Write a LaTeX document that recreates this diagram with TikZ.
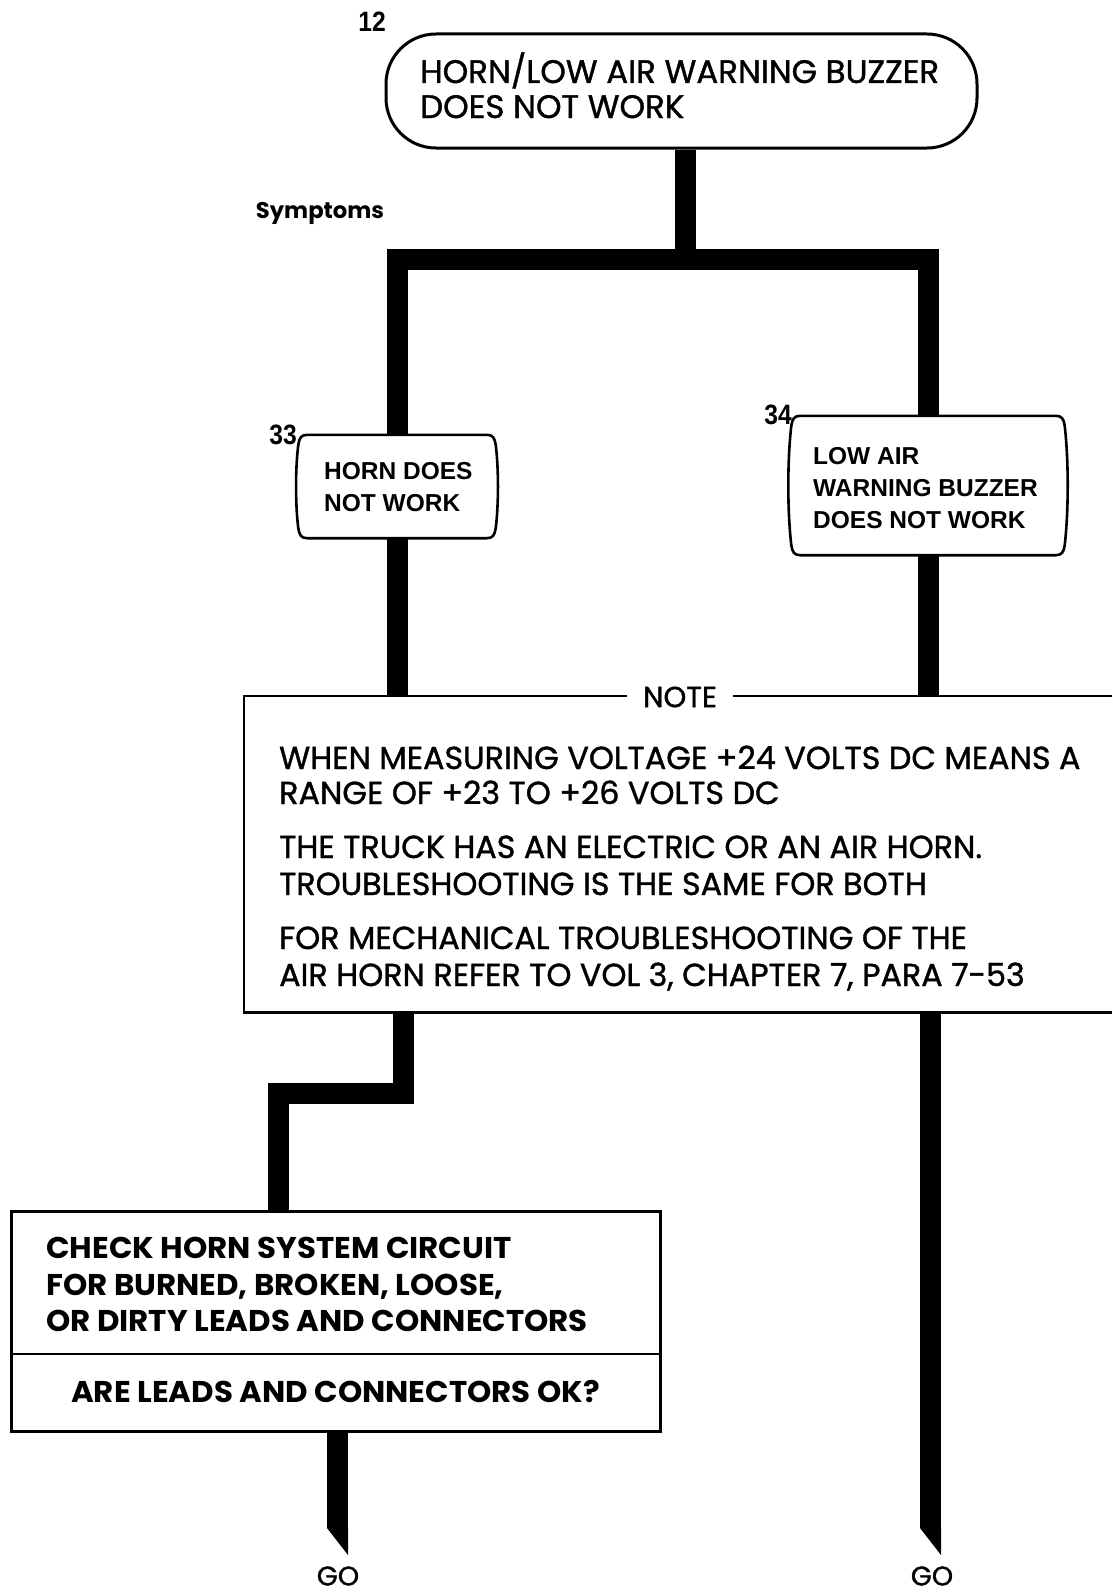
\documentclass[tikz,border=0pt]{standalone}
\usepackage{fontspec}
\setmainfont{Poppins}
\newfontfamily\fut{Poppins}
\newfontfamily\futm[FakeBold=1.2]{Poppins}
\newfontfamily\futw[FakeStretch=1.03]{Poppins}
\newfontfamily\helv{Liberation Sans}
\newfontfamily\helvc[FakeStretch=0.88]{Liberation Sans}
\usetikzlibrary{calc}
\newcommand\barrelbox[2]{%
 \draw[bord] let \p1=(#1.north west), \p2=(#1.south east), \n1={0.32*(\y1-\y2)} in
  (\x1+8pt,\y1) -- (\x2-8pt,\y1)
  .. controls (\x2-2pt,\y1) and (\x2,\y1-3pt) .. (\x2+1pt,\y1-10pt)
  .. controls (\x2+#2,\y1-\n1) and (\x2+#2,\y2+\n1) .. (\x2+1pt,\y2+10pt)
  .. controls (\x2,\y2+3pt) and (\x2-2pt,\y2) .. (\x2-8pt,\y2)
  -- (\x1+8pt,\y2)
  .. controls (\x1+2pt,\y2) and (\x1,\y2+3pt) .. (\x1-1pt,\y2+10pt)
  .. controls (\x1-#2,\y2+\n1) and (\x1-#2,\y1-\n1) .. (\x1-1pt,\y1-10pt)
  .. controls (\x1,\y1-3pt) and (\x1+2pt,\y1) .. (\x1+8pt,\y1) -- cycle;}
\begin{document}
\begin{tikzpicture}[x=1pt,y=-1pt,
  flow/.style={line width=21pt, black},
  bord/.style={line width=2.6pt, black},
  ttl/.style={anchor=base west, inner sep=0pt, font=\futm\fontsize{32.5}{32.5}\selectfont},
  ntxt/.style={anchor=base west, inner sep=0pt, font=\futm\fontsize{31.8}{31.8}\selectfont},
  ctxt/.style={anchor=base west, inner sep=0pt, font=\futw\bfseries\fontsize{30}{30}\selectfont},
  stxt/.style={anchor=base west, inner sep=0pt, font=\helv\bfseries\fontsize{24.5}{24.5}\selectfont},
  num/.style={inner sep=0pt, font=\helvc\bfseries\fontsize{28}{28}\selectfont}]
\useasboundingbox (0,0) rectangle (1112,1592);

% top terminal
\node[draw, line width=3pt, rounded corners=50pt, minimum width=591pt, minimum height=114pt, inner sep=0pt] (term) at (681.5,91) {};
\node[ttl] (t1) at (420,83) {HORN/LOW AIR WARNING BUZZER};
\node[ttl] (t2) at (420,118) {DOES NOT WORK};
\node[num] (n12) at (372,22) {12};
\node[inner sep=0pt, font=\fut\bfseries\fontsize{22.7}{22.7}\selectfont] (sym) at (320,213) {Symptoms};

% symptom boxes
\node[minimum width=195pt, minimum height=103pt, inner sep=0pt] (s33) at (397,486.5) {};
\barrelbox{s33}{4pt}
\node[stxt] (s33a) at (324,479) {HORN DOES};
\node[stxt] (s33b) at (324,511) {NOT WORK};
\node[num] (n33) at (283,435) {33};

\node[minimum width=271pt, minimum height=139pt, inner sep=0pt] (s34) at (928,485.5) {};
\barrelbox{s34}{5pt}
\node[stxt] (s34a) at (813,464) {LOW AIR};
\node[stxt] (s34b) at (813,496) {WARNING BUZZER};
\node[stxt] (s34c) at (813,528) {DOES NOT WORK};
\node[num] (n34) at (778,415) {34};

% tree
\coordinate (stem) at (685.5,259.5);
\draw[flow] (stem |- term.south) -- (stem);
\draw[flow] (s33.north) |- (stem) -| (s34.north);

% note box
\node[minimum width=868pt, minimum height=316pt, inner sep=0pt, anchor=north west] (note) at (244,696) {};
\draw[flow] (s33.south) -- (s33.south |- note.north);
\draw[flow] (s34.south) -- (s34.south |- note.north);
\draw[bord] (note.north east) -- (note.north west) -- (note.south west) -- (note.south east);
\node[fill=white, inner xsep=16pt, inner ysep=2pt, font=\futm\fontsize{29}{29}\selectfont] (nlbl) at (680,697) {NOTE};
\node[ntxt] (l1) at (279,769) {WHEN MEASURING VOLTAGE +24 VOLTS DC MEANS A};
\node[ntxt] (l2) at (279,804) {RANGE OF +23 TO +26 VOLTS DC};
\node[ntxt] (l3) at (279,858) {THE TRUCK HAS AN ELECTRIC OR AN AIR HORN.};
\node[ntxt] (l4) at (279,895) {TROUBLESHOOTING IS THE SAME FOR BOTH};
\node[ntxt] (l5) at (279,949) {FOR MECHANICAL TROUBLESHOOTING OF THE};
\node[ntxt] (l6) at (279,986) {AIR HORN REFER TO VOL 3, CHAPTER 7, PARA 7-53};

% check box
\node[draw, bord, minimum width=649pt, minimum height=220pt, inner sep=0pt, anchor=north west] (chk) at (10,1210) {};
\coordinate (div) at (0,1354);
\draw[bord] (chk.west |- div) -- (chk.east |- div);
\node[ctxt] (c1) at (46,1258) {CHECK HORN SYSTEM CIRCUIT};
\node[ctxt] (c2) at (46,1295) {FOR BURNED, BROKEN, LOOSE,};
\node[ctxt] (c3) at (46,1331) {OR DIRTY LEADS AND CONNECTORS};
\node[ctxt] (c4) at (71,1402) {ARE LEADS AND CONNECTORS OK?};

% below note
\coordinate (jA) at (403,1093);
\coordinate (jB) at (278,1093);
\draw[flow] (note.south -| jA) -- (jA) -- (jB) -- (jB |- chk.north);

\coordinate (endL) at (337.5,1528);
\draw[flow] (chk.south -| endL) -- (endL);
\fill (endL) ++(-10.5,0) -- ++(21,0) -- ++(0,27) -- cycle;

\coordinate (endR) at (930.5,1528);
\draw[flow] (note.south -| endR) -- (endR);
\fill (endR) ++(-10.5,0) -- ++(21,0) -- ++(0,27) -- cycle;

\node[font=\futm\fontsize{27}{27}\selectfont, inner sep=0pt] (goL) at (338,1576) {GO};
\node[font=\futm\fontsize{27}{27}\selectfont, inner sep=0pt] (goR) at (932,1576) {GO};
\end{tikzpicture}
\end{document}
